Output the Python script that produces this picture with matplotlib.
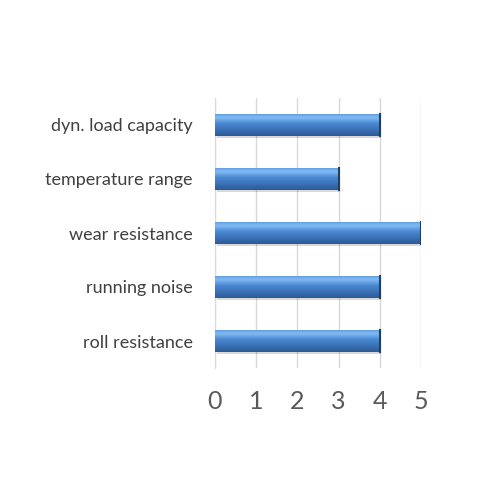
import numpy as np
import matplotlib
matplotlib.use('Agg')
from matplotlib import pyplot as plt
from matplotlib.colors import LinearSegmentedColormap

categories = ['roll resistance', 'running noise', 'wear resistance',
              'temperature range', 'dyn. load capacity']
values = [4, 4, 5, 3, 4]
x_ticks = [0, 1, 2, 3, 4, 5]

plt.rcParams['font.family'] = ['Lato', 'DejaVu Sans']

fig = plt.figure(figsize=(5, 5), dpi=100)
ax = fig.add_axes([0.43, 0.264, 0.412, 0.54])

ypos = np.arange(len(categories))
bar_h = 0.41

# soft shadow under each bar
ax.barh(ypos - 0.04, values, height=bar_h, left=0.04, color='#000000', alpha=0.15, zorder=2)
bars = ax.barh(ypos, values, height=bar_h, color='#4F81BD', zorder=3)

# vertical gradient filling each bar (dark bottom, light band near top)
cmap = LinearSegmentedColormap.from_list(
    'bevel', [(0.0, '#2C5A96'), (0.25, '#3A70B4'), (0.55, '#4A89D3'),
              (0.8, '#80BAF3'), (0.92, '#6FA9EA'), (1.0, '#4F8AD2')])
grad = np.linspace(0, 1, 64).reshape(-1, 1)
for b in bars:
    x0, y0 = b.get_x(), b.get_y()
    w, h = b.get_width(), b.get_height()
    im = ax.imshow(grad, cmap=cmap, aspect='auto', origin='lower',
                   extent=(x0, x0 + w, y0, y0 + h), zorder=4)
    im.set_clip_path(b)
    ax.plot([x0 + w, x0 + w], [y0, y0 + h], color='#1F3F66', lw=1.5, zorder=5)

ax.set_xlim(0, 5)
ax.set_ylim(-0.5, len(categories) - 0.5)
ax.set_xticks(x_ticks)
ax.set_xticklabels([str(t) for t in x_ticks], fontsize=18, color='#595959')
ax.set_yticks(ypos)
ax.set_yticklabels(categories, fontsize=13, color='#404040')
ax.tick_params(axis='both', length=0)
ax.tick_params(axis='x', pad=16)
ax.tick_params(axis='y', pad=16)

ax.grid(axis='x', color='#D9D9D9', lw=1, zorder=0)
for s in ['top', 'right', 'bottom']:
    ax.spines[s].set_visible(False)
ax.spines['left'].set_color('#D9D9D9')
ax.spines['left'].set_zorder(1)

fig.savefig('out.png', dpi=100, facecolor='white')
